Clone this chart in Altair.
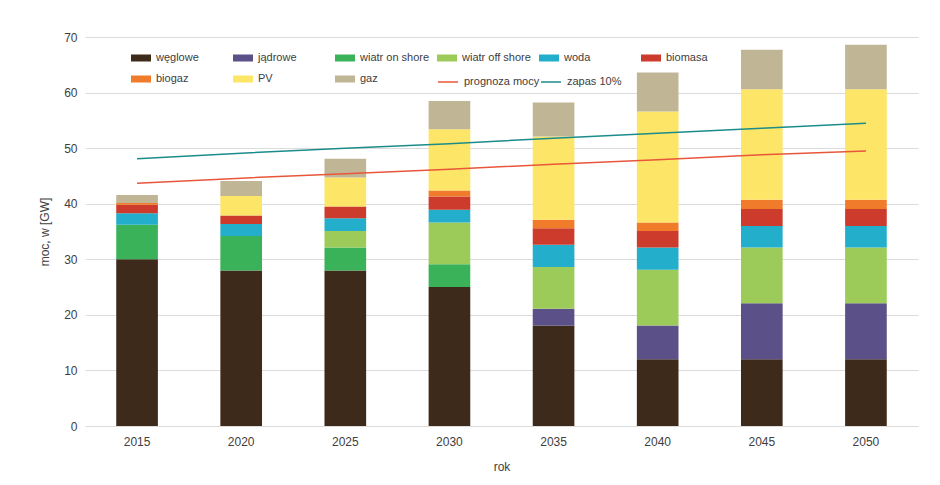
import altair as alt
import pandas as pd

years = ["2015", "2020", "2025", "2030", "2035", "2040", "2045", "2050"]
categories = ["węglowe", "jądrowe", "wiatr on shore", "wiatr off shore", "woda",
              "biomasa", "biogaz", "PV", "gaz"]

weglowe = [30.0, 28.0, 28.0, 25.0, 18.1, 12.0, 12.0, 12.0]
jadrowe = [0.0, 0.0, 0.0, 0.0, 3.0, 6.1, 10.1, 10.1]
wiatr_on = [6.2, 6.2, 4.1, 4.1, 0.0, 0.0, 0.0, 0.0]
wiatr_off = [0.0, 0.0, 3.0, 7.5, 7.5, 10.0, 10.0, 10.0]
woda = [2.1, 2.15, 2.3, 2.3, 4.0, 4.0, 3.9, 3.9]
biomasa = [1.5, 1.55, 2.1, 2.4, 3.0, 3.0, 3.05, 3.05]
biogaz = [0.35, 0.0, 0.0, 1.1, 1.5, 1.5, 1.65, 1.65]
pv = [0.0, 3.5, 5.2, 11.0, 15.0, 20.0, 19.9, 19.9]
gaz = [1.4, 2.7, 3.4, 5.1, 6.1, 7.0, 7.1, 8.0]

prognoza = [43.7, 44.6, 45.4, 46.2, 47.1, 47.9, 48.8, 49.5]
zapas = [48.1, 49.1, 50.0, 50.8, 51.8, 52.7, 53.6, 54.5]

bar_colors = ["#3e2a1a", "#5c5089", "#3ab25a", "#9ccb5a", "#23aecb",
              "#cc3b2b", "#f07b2b", "#fde567", "#c0b695"]
line_names = ["prognoza mocy", "zapas 10%"]
line_colors = ["#e8563b", "#1b8c8a"]

series = [weglowe, jadrowe, wiatr_on, wiatr_off, woda, biomasa, biogaz, pv, gaz]
rows = []
for k, (cat, vals) in enumerate(zip(categories, series)):
    for y, v in zip(years, vals):
        if v > 0:
            rows.append({"rok": y, "kategoria": cat, "moc": v, "kolejnosc": k})
df = pd.DataFrame(rows)

lrows = []
for name, vals in zip(line_names, [prognoza, zapas]):
    for y, v in zip(years, vals):
        lrows.append({"rok": y, "seria": name, "moc": v})
dfl = pd.DataFrame(lrows)

FONT = "Liberation Sans"
TXT = "#404040"

x_enc = alt.X(
    "rok:N", sort=years,
    scale=alt.Scale(paddingInner=0.6, paddingOuter=0.3),
    axis=alt.Axis(title="rok", labelAngle=0, domain=False, ticks=False, grid=False,
                  labelPadding=10, titleY=40, titleBaseline="middle",
                  labelFontSize=12, titleFontSize=12, titleFontWeight="normal"),
)

bars = alt.Chart(df).mark_bar().encode(
    x=x_enc,
    y=alt.Y("moc:Q", stack="zero",
            scale=alt.Scale(domain=[0, 70]),
            axis=alt.Axis(title="moc, w [GW]", values=list(range(0, 71, 10)),
                          domain=False, ticks=False, labelPadding=8,
                          gridColor="#dcdcdc", gridWidth=1,
                          titleX=-41, titleY=194.5, titleAngle=270,
                          titleAlign="center", titleBaseline="middle",
                          labelFontSize=12, titleFontSize=12,
                          titleFontWeight="normal")),
    color=alt.Color("kategoria:N", sort=categories,
                    scale=alt.Scale(domain=categories, range=bar_colors),
                    legend=alt.Legend(title=None, orient="none", legendX=46, legendY=11,
                                      direction="horizontal", columns=6, gridAlign="all",
                                      symbolType="M-1,-0.35H1V0.35H-1Z", symbolSize=400,
                                      symbolStrokeWidth=0, labelFontSize=11,
                                      labelOffset=5, columnPadding=7, rowPadding=6,
                                      padding=0)),
    order=alt.Order("kolejnosc:Q", sort="ascending"),
)

lines = alt.Chart(dfl).mark_line(strokeWidth=1.5).encode(
    x=alt.X("rok:N", sort=years),
    y=alt.Y("moc:Q"),
    stroke=alt.Stroke("seria:N", sort=line_names,
                      scale=alt.Scale(domain=line_names, range=line_colors),
                      legend=alt.Legend(title=None, orient="none", legendX=352, legendY=34,
                                        direction="horizontal", columns=2, gridAlign="all",
                                        symbolType="stroke", symbolSize=400,
                                        symbolStrokeWidth=1.5, labelFontSize=11,
                                        labelOffset=5, columnPadding=-4, rowPadding=1,
                                        padding=0)),
)

chart = alt.layer(bars, lines).properties(
    width=833, height=389,
    autosize=alt.AutoSizeParams(type="none"),
    padding={"left": 77, "top": 29, "right": 10, "bottom": 58},
    background="white",
).configure(
    view=alt.ViewConfig(stroke=None),
    axis=alt.AxisConfig(labelFont=FONT, titleFont=FONT, labelColor=TXT, titleColor=TXT),
    legend=alt.LegendConfig(labelFont=FONT, labelColor=TXT),
)

chart.save("out.html", embed_options={"renderer": "svg", "actions": False})
